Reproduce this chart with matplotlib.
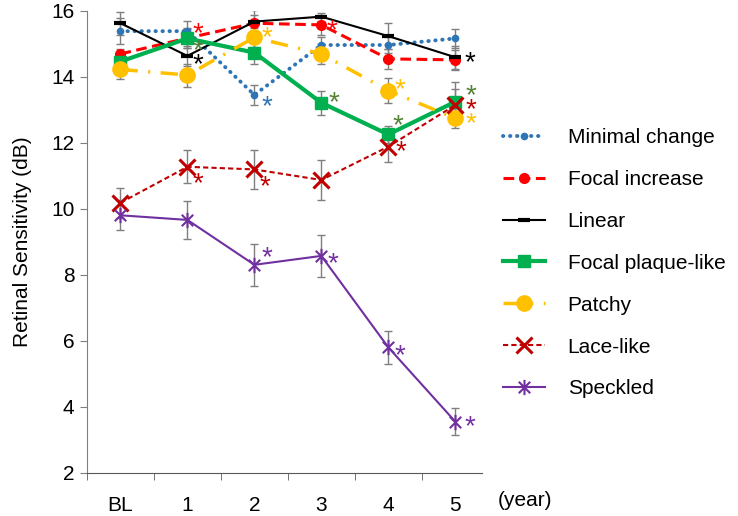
import numpy as np
import matplotlib
matplotlib.use('Agg')
import matplotlib.pyplot as plt
from matplotlib.path import Path
from matplotlib.markers import MarkerStyle

plt.rcParams['font.family'] = ['Liberation Sans', 'DejaVu Sans']

years = ['BL', '1', '2', '3', '4', '5']

minimal = [15.38, 15.38, 13.45, 14.96, 14.96, 15.16]
focal_inc = [14.69, 15.17, 15.62, 15.57, 14.54, 14.51]
linear = [15.62, 14.63, 15.67, 15.82, 15.23, 14.59]
plaque = [14.46, 15.16, 14.73, 13.21, 12.25, 13.24]
patchy = [14.22, 14.05, 15.19, 14.69, 13.58, 12.74]
lace = [10.18, 11.27, 11.19, 10.87, 11.88, 13.14]
speckled = [9.80, 9.66, 8.30, 8.57, 5.80, 3.55]

minimal_err = [0.40, 0.30, 0.30, 0.25, 0.25, 0.30]
focal_inc_err = [0.15, 0.30, 0.25, 0.30, 0.30, 0.30]
linear_err = [0.35, 0.30, 0.35, 0.12, 0.40, 0.35]
plaque_err = [0.30, 0.30, 0.35, 0.37, 0.25, 0.60]
patchy_err = [0.30, 0.35, 0.30, 0.30, 0.38, 0.30]
lace_err = [0.46, 0.50, 0.60, 0.60, 0.45, 0.50]
speckled_err = [0.45, 0.58, 0.64, 0.64, 0.50, 0.40]

# significance asterisks: (x position, y value, colour)
stars = [
    (1.15, 15.57, '#FF0000'), (2.18, 16.05, '#FF0000'), (3.16, 15.66, '#FF0000'),
    (2.18, 13.35, '#2E75B6'),
    (1.15, 14.63, '#000000'), (5.22, 14.69, '#000000'),
    (1.15, 15.05, '#548235'), (3.19, 13.47, '#548235'), (4.15, 12.78, '#548235'), (5.24, 13.68, '#548235'),
    (2.18, 15.45, '#FFC000'), (4.18, 13.85, '#FFC000'), (5.24, 12.82, '#FFC000'),
    (1.16, 11.00, '#C00000'), (2.16, 10.93, '#C00000'), (4.19, 11.97, '#C00000'), (5.24, 13.25, '#C00000'),
    (2.18, 8.76, '#7030A0'), (3.18, 8.60, '#7030A0'), (4.17, 5.80, '#7030A0'), (5.22, 3.66, '#7030A0'),
]

star_path = Path([(0, -1), (0, 1), (-0.75, -0.75), (0.75, 0.75), (-0.75, 0.75), (0.75, -0.75)],
                 [Path.MOVETO, Path.LINETO, Path.MOVETO, Path.LINETO, Path.MOVETO, Path.LINETO])

series = [
    ('Minimal change', minimal, minimal_err,
     dict(color='#2E75B6', lw=2.8, ls=(0, (0.1, 1.7)), dash_capstyle='round', marker='o', ms=4.5)),
    ('Focal increase', focal_inc, focal_inc_err,
     dict(color='#FF0000', lw=2.2, ls=(0, (3.5, 1.8)), marker='o', ms=7)),
    ('Linear', linear, linear_err,
     dict(color='#000000', lw=1.5, marker='_', ms=9, mew=3)),
    ('Focal plaque-like', plaque, plaque_err,
     dict(color='#00B050', lw=3, marker='s', ms=9)),
    ('Patchy', patchy, patchy_err,
     dict(color='#FFC000', lw=2.5, ls=(0, (5, 3, 0.6, 3)), marker='o', ms=11)),
    ('Lace-like', lace, lace_err,
     dict(color='#C00000', lw=1.5, ls=(0, (2.5, 1.5)), marker='x', ms=11, mew=2.2)),
    ('Speckled', speckled, speckled_err,
     dict(color='#7030A0', lw=1.5, marker=MarkerStyle(star_path), ms=11, mew=1.5)),
]

fig = plt.figure(figsize=(7.38, 5.16), dpi=100)
ax = fig.add_axes([87 / 738, 1 - 472.7 / 516, (482 - 87) / 738, (472.7 - 10.7) / 516])

x = np.arange(len(years))
for name, vals, err, style in series:
    ax.errorbar(x, vals, yerr=err, fmt='none', ecolor='#7F7F7F', elinewidth=1,
                capsize=3, capthick=1, zorder=2)
for name, vals, err, style in series:
    ax.plot(x, vals, label=name, zorder=3, **style)

for sx, sy, c in stars:
    ax.annotate('*', xy=(sx, sy), xytext=(0, -11.5), textcoords='offset points',
                ha='center', va='baseline', fontsize=20, color=c, zorder=4)

ax.set_xlim(-0.5, 5.4)
ax.set_ylim(2, 16)
ax.set_yticks(range(2, 17, 2))
ax.set_xticks(x)
ax.set_xticklabels(years)
ax.set_xticks(np.arange(-0.5, 5, 1), minor=True)
ax.tick_params(axis='x', which='major', length=0, pad=17, labelsize=15)
ax.tick_params(axis='x', which='minor', length=5, color='#595959', direction='out')
ax.tick_params(axis='y', length=5, color='#7F7F7F', labelsize=15, pad=4)
for s in ['top', 'right']:
    ax.spines[s].set_visible(False)
ax.spines['left'].set_color('#7F7F7F')
ax.spines['bottom'].set_color('#595959')
ax.set_ylabel('Retinal Sensitivity (dB)', fontsize=15, labelpad=14)

fig.text(498 / 738, 1 - 501 / 516, '(year)', fontsize=15, va='center', ha='left')

fig.legend(loc='upper left', bbox_to_anchor=(503 / 738, 1 - 128 / 516), frameon=False,
           fontsize=15, handlelength=2.0, handletextpad=1.1, labelspacing=1.1,
           borderpad=0, borderaxespad=0, numpoints=1)

fig.savefig('out.png', dpi=100)
